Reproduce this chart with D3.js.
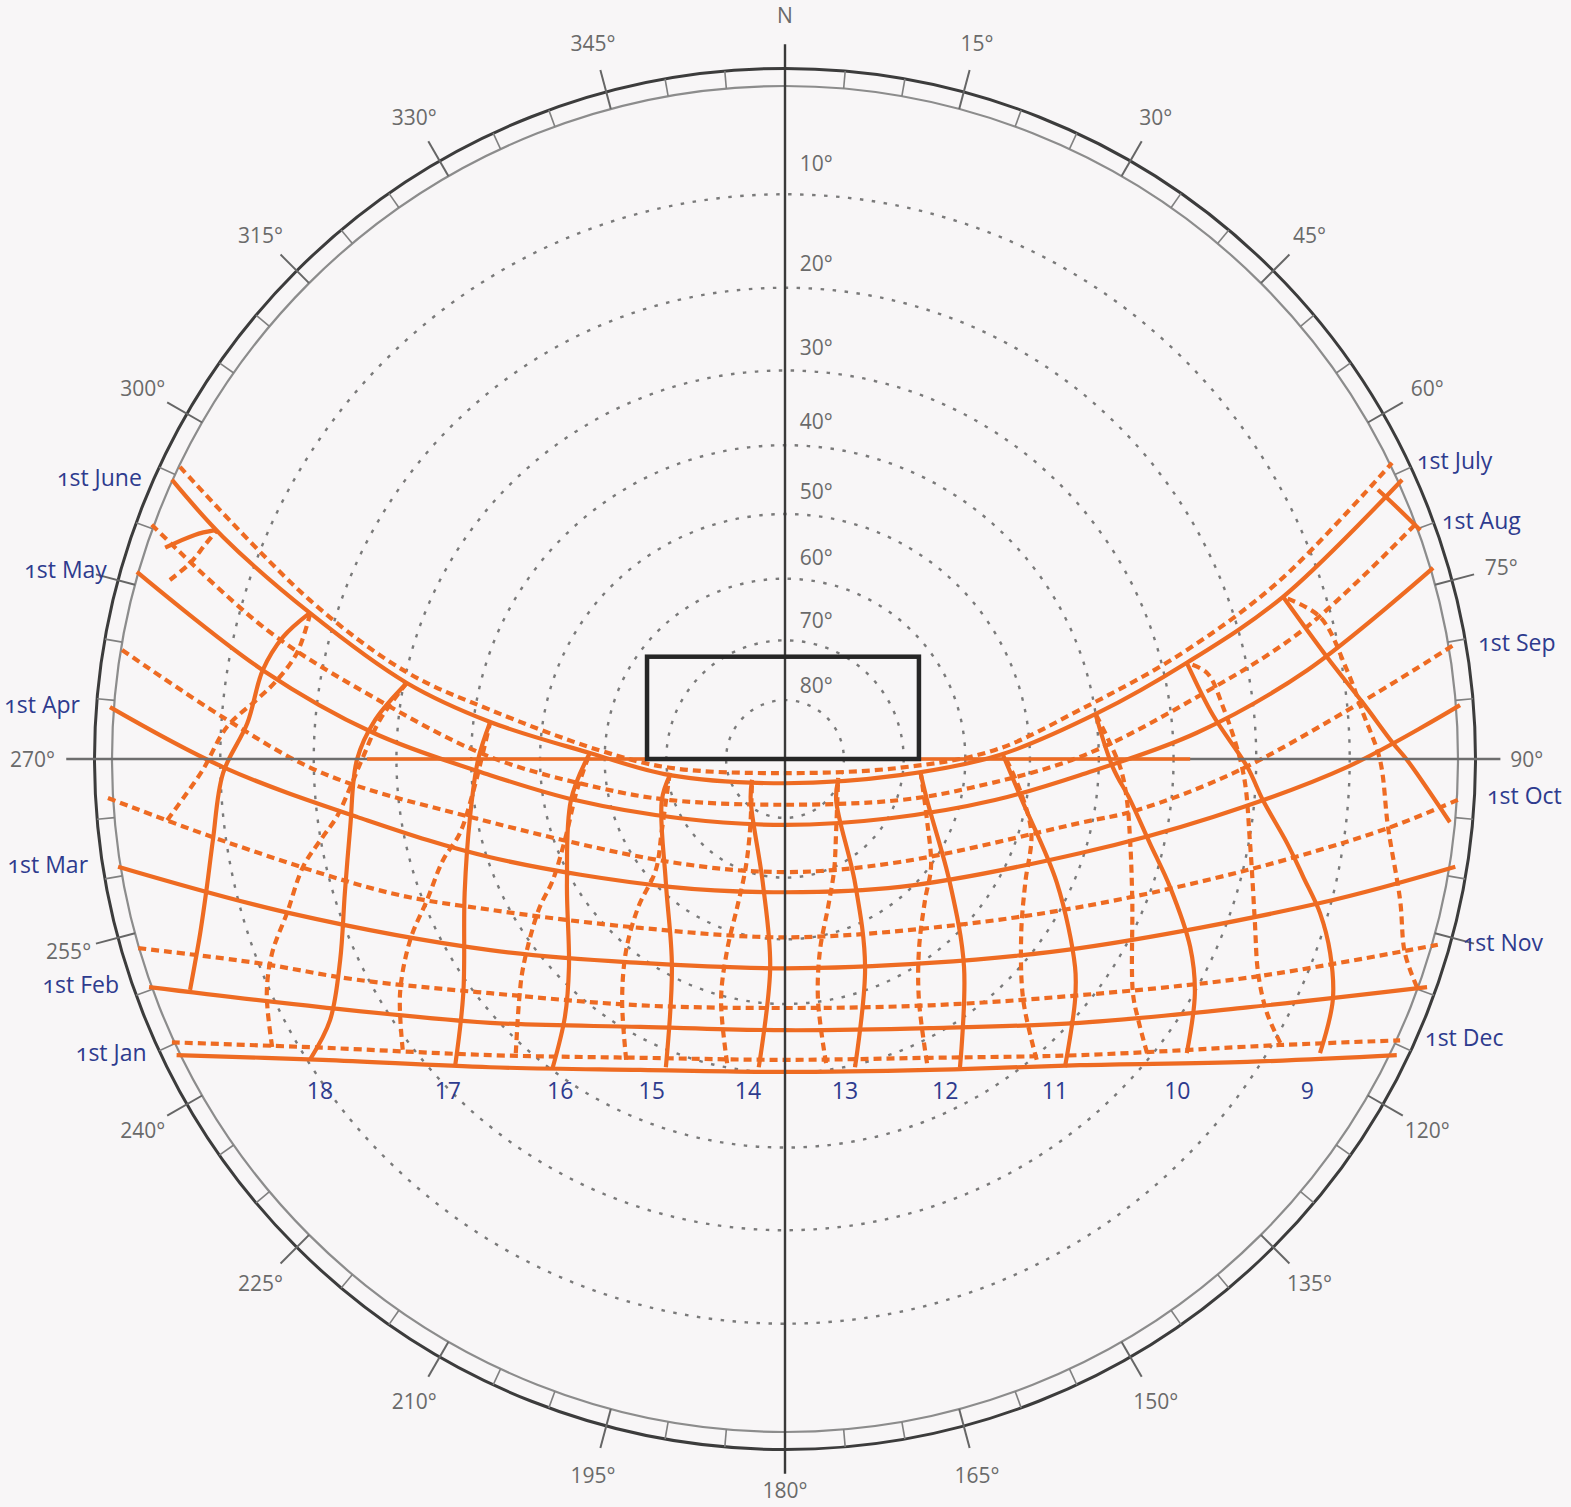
<!DOCTYPE html>
<html><head><meta charset="utf-8">
<script src="https://cdn.jsdelivr.net/npm/d3@7"></script>
<style>
html,body{margin:0;padding:0;background:#f8f6f7;}
svg{display:block;}
text{font-family:"Open Sans","Noto Sans",sans-serif;}
</style></head><body>
<svg id="chart" width="1571" height="1507"></svg>
<script>
// ---------- DATA (chart units: horizon radius = 100, x right, y up) ----------
const altitudes = [10, 20, 30, 40, 50, 60, 70, 80];
const altLabelV = [88.6, 73.7, 61.2, 50.2, 39.8, 30.0, 20.7, 11.0];
const azimuthLabels = [15, 30, 45, 60, 75, 90, 120, 135, 150, 165, 180, 195, 210, 225, 240, 255, 270, 300, 315, 330, 345];

// date lines (1st of month); Jan–Jun solid, Jul–Dec dashed
const dJan = [[-90.4,-44.0],[-68.7,-44.7],[-43.8,-45.8],[-21.5,-46.2],[0,-46.5],[21.5,-46.2],[43.8,-45.5],[68.7,-45.0],[90.9,-44.0]];
const dFeb = [[-94.5,-33.9],[-68.7,-36.9],[-43.8,-39.2],[-21.5,-39.8],[0,-40.3],[21.5,-40.0],[43.8,-39.2],[68.7,-36.9],[95.4,-33.9]];
const dMar = [[-99.1,-16.0],[-73.6,-22.9],[-43.8,-28.4],[-21.5,-30.3],[0,-31.1],[21.5,-30.3],[43.8,-28.1],[79.5,-21.4],[99.6,-16.0]];
const dApr = [[-100.3,7.7],[-83.5,-1.2],[-63.6,-8.6],[-43.8,-14.6],[-17.1,-19.0],[0,-19.8],[17.1,-19.0],[43.8,-14.0],[63.6,-8.6],[83.5,-1.2],[100.3,8.0]];
const dMay = [[-96.3,27.8],[-77.6,13.2],[-61.2,3.9],[-43.8,-2.4],[-31.2,-6.1],[-15.6,-8.8],[0,-9.8],[15.6,-8.8],[31.2,-6.1],[43.8,-2.4],[61.2,3.9],[77.6,13.2],[96.3,28.4]];
const dJun = [[-91.1,41.5],[-83.5,33.0],[-70.6,21.7],[-56.2,11.3],[-43.8,5.5],[-29.0,0.9],[-17.1,-2.4],[0,-3.6],[17.1,-2.4],[31.9,0.6],[46.4,6.8],[59.7,14.3],[74.0,24.1],[91.7,41.5]];
const dJul = [[-89.9,43.4],[-70.6,23.6],[-56.2,12.9],[-43.8,7.3],[-27.6,1.3],[-17.1,-1.3],[0,-2.1],[17.1,-1.3],[31.1,1.3],[43.8,7.3],[59.1,15.8],[73.6,26.6],[90.2,44.0]];
const dAug = [[-94.1,34.8],[-77.0,19.2],[-61.2,9.2],[-43.8,0.3],[-27.5,-4.3],[-17.1,-6.1],[0,-6.8],[17.1,-6.1],[27.5,-4.3],[43.8,0.3],[61.2,9.2],[77.0,19.2],[93.9,35.1]];
const dSep = [[-98.5,16.2],[-83.5,6.2],[-68.7,-2.1],[-46.8,-8.6],[-17.1,-15.3],[0,-16.8],[17.1,-15.3],[43.8,-9.5],[52.3,-7.6],[66.6,-2.1],[85.4,8.3],[99.3,16.9]];
const dOct = [[-100.6,-5.8],[-82.5,-12.5],[-58.7,-19.9],[-43.8,-22.4],[-21.5,-25.1],[0,-26.5],[21.5,-25.1],[43.8,-22.0],[68.7,-16.5],[89.5,-10.3],[100.6,-5.8]];
const dNov = [[-96.1,-28.1],[-78.5,-30.3],[-63.6,-32.8],[-43.8,-34.8],[-21.5,-36.6],[0,-37.0],[21.5,-36.6],[43.8,-35.1],[69.5,-32.4],[97.0,-27.6]];
const dDec = [[-91.1,-42.1],[-68.7,-42.9],[-43.8,-44.0],[-21.5,-44.4],[0,-44.7],[21.5,-44.4],[43.8,-44.0],[73.6,-42.5],[91.4,-41.8]];

const solidDates = ["1st Jan", "1st Feb", "1st Mar", "1st Apr", "1st May", "1st June"];
const dashedDates = ["1st July", "1st Aug", "1st Sep", "1st Oct", "1st Nov", "1st Dec"];

// hour lines: s = Jan→Jun (solid), d = Jul→Dec (dashed)
const h20s = [[-92.1,31.4],[-87.7,33.3],[-84.7,34.0]];
const h20d = [[-91.4,26.6],[-88.4,29.1],[-86.2,31.8],[-84.4,34.0]];
const h19s = [[-88.4,-34.3],[-86.9,-25.9],[-85.9,-19.0],[-85.0,-12.0],[-83.5,-2.1],[-79.9,5.3],[-77.6,13.2],[-74.6,18.1],[-70.6,21.7]];
const h19d = [[-91.8,-9.1],[-88.9,-5.1],[-86.5,-1.6],[-82.9,4.8],[-78.5,8.8],[-75.5,11.7],[-72.5,15.8],[-70.6,21.4]];
const h18s = [[-70.6,-44.7],[-67.6,-38.8],[-66.1,-29.9],[-65.4,-19.9],[-64.6,-10.1],[-63.6,-0.1],[-60.9,5.8],[-56.2,11.3]];
const h18d = [[-76.2,-42.8],[-77.0,-34.8],[-76.2,-28.8],[-74.0,-22.9],[-71.6,-16.0],[-68.7,-11.6],[-66.6,-8.6],[-64.6,-4.2],[-62.7,0.3],[-60.2,5.8],[-56.2,11.3]];
const h17s = [[-49.0,-45.5],[-47.8,-34.8],[-47.6,-19.9],[-46.8,-8.6],[-45.6,-0.1],[-43.8,5.5]];
const h17d = [[-56.8,-43.2],[-57.2,-34.8],[-55.7,-26.9],[-53.2,-21.0],[-50.8,-15.0],[-48.3,-11.0],[-46.4,-5.1],[-44.6,2.1],[-43.8,5.5]];
const h16s = [[-34.5,-45.8],[-32.7,-38.3],[-32.1,-30.9],[-32.4,-18.4],[-31.8,-6.1],[-29.0,0.9]];
const h16d = [[-40.0,-43.7],[-39.5,-35.8],[-38.9,-30.9],[-36.6,-22.4],[-34.5,-18.0],[-32.7,-12.0],[-30.9,-4.6],[-29.0,0.9]];
const h15s = [[-17.7,-45.8],[-16.8,-30.9],[-17.7,-18.4],[-18.3,-6.1],[-17.1,-2.4]];
const h15d = [[-23.6,-44.7],[-24.2,-35.8],[-23.6,-28.4],[-21.8,-22.0],[-19.2,-16.5],[-18.3,-10.6],[-17.1,-1.9]];
const h14s = [[-3.9,-45.8],[-2.2,-30.9],[-3.3,-18.4],[-5.1,-6.1],[-4.9,-3.1]];
const h14d = [[-8.6,-45.2],[-9.5,-35.8],[-8.6,-28.4],[-7.1,-22.0],[-5.9,-16.5],[-5.2,-10.6],[-4.9,-3.1]];
const h13s = [[10.4,-45.8],[11.9,-30.9],[10.4,-18.4],[7.6,-6.1],[7.9,-3.1]];
const h13d = [[6.1,-45.2],[4.9,-35.8],[5.2,-28.4],[6.4,-22.0],[7.3,-16.5],[7.6,-10.6],[7.9,-2.8]];
const h12s = [[26.0,-45.8],[26.6,-30.9],[24.5,-18.4],[21.1,-6.1],[20.1,-1.9]];
const h12d = [[21.1,-45.2],[19.9,-35.8],[19.9,-28.4],[20.8,-21.0],[21.7,-16.0],[21.1,-9.1],[20.1,-1.6]];
const h11s = [[41.6,-45.8],[43.1,-35.8],[43.1,-30.9],[40.4,-18.4],[35.2,-6.1],[32.4,0.6]];
const h11d = [[37.4,-44.7],[35.4,-35.8],[35.1,-25.9],[35.7,-18.4],[36.6,-11.0],[34.9,-4.6],[32.4,0.9]];
const h10s = [[59.7,-43.7],[60.9,-34.8],[60.2,-27.9],[57.2,-19.0],[54.2,-12.5],[51.3,-6.1],[48.7,-1.2],[46.1,6.8]];
const h10d = [[53.8,-43.7],[52.5,-38.8],[51.7,-34.8],[51.6,-21.0],[51.3,-12.5],[50.8,-6.1],[49.8,-1.2],[46.1,6.8]];
const h9s = [[79.5,-43.7],[81.4,-35.8],[81.0,-28.8],[79.5,-22.9],[77.0,-17.5],[74.6,-12.5],[71.0,-6.1],[68.7,-1.2],[63.6,6.5],[59.7,14.3]];
const h9d = [[73.6,-42.2],[71.6,-37.7],[70.3,-31.8],[69.8,-23.9],[69.1,-12.5],[68.1,-2.1],[65.1,7.7],[62.7,12.8],[59.7,14.3]];
const h8s = [[98.8,-9.4],[92.4,-0.1],[90.3,2.4],[85.9,8.3],[80.5,15.2],[74.0,24.1]];
const h8d = [[93.9,-33.9],[92.1,-28.8],[91.4,-21.0],[89.6,-10.1],[88.4,-0.1],[85.9,6.8],[83.5,13.2],[79.5,21.1],[74.0,24.1]];
const h7s = [[94.4,34.0],[90.6,37.7],[88.1,40.0]];

const hourLabels = ["18", "17", "16", "15", "14", "13", "12", "11", "10", "9"];
const hourLabelU = [-69.1, -50.1, -33.4, -19.8, -5.5, 8.9, 23.8, 40.1, 58.3, 77.6];
const hourLabelV = -49.2;

const axisBand = [[-62.1, 0], [60.2, 0]];
const boxU = [-20.5, 19.9];
const boxV = [0, 15.2];

// ---------- LAYOUT ----------
const W = 1571, H = 1507, CX = 785, CY = 759, RPX = 673;
const R_HORIZON = 100, R_OUTER = 102.6, R_MAJOR = 106, R_LABEL = 110.2, R_N = 110.6, R_S = 108.6;
const ORANGE = "#ee6b22", NAVY = "#2e3b8e", GREY = "#6a6a6a";

const xs = d3.scaleLinear().domain([-100, 100]).range([CX - RPX, CX + RPX]);
const ys = d3.scaleLinear().domain([-100, 100]).range([CY + RPX, CY - RPX]);
const rad = r => xs(r) - xs(0);
const polar = (az, r) => [r * Math.sin(az * Math.PI / 180), r * Math.cos(az * Math.PI / 180)];
const stereo = a => 100 * Math.tan((90 - a) / 2 * Math.PI / 180);
const labelR = az => az === 180 ? R_S : (az === 270 ? R_LABEL + 1.6 : R_LABEL);

const svg = d3.select("#chart");
svg.append("rect").attr("width", W).attr("height", H).attr("fill", "#f8f6f7");

// rings
svg.append("circle").attr("cx", xs(0)).attr("cy", ys(0)).attr("r", rad(R_HORIZON))
  .attr("fill", "none").attr("stroke", "#8c8c8c").attr("stroke-width", 2.2);
svg.append("circle").attr("cx", xs(0)).attr("cy", ys(0)).attr("r", rad(R_OUTER))
  .attr("fill", "none").attr("stroke", "#3c3c3c").attr("stroke-width", 3);

// ticks
const ticks = d3.range(0, 360, 5);
svg.append("g").selectAll("line").data(ticks).join("line")
  .attr("x1", d => xs(polar(d, R_HORIZON)[0])).attr("y1", d => ys(polar(d, R_HORIZON)[1]))
  .attr("x2", d => xs(polar(d, d % 15 === 0 ? R_MAJOR : R_OUTER)[0]))
  .attr("y2", d => ys(polar(d, d % 15 === 0 ? R_MAJOR : R_OUTER)[1]))
  .attr("stroke", d => d % 15 === 0 ? "#666" : "#808080")
  .attr("stroke-width", d => d % 15 === 0 ? 2 : 1.6);

// altitude rings
svg.append("g").selectAll("circle").data(altitudes).join("circle")
  .attr("cx", xs(0)).attr("cy", ys(0)).attr("r", d => rad(stereo(d)))
  .attr("fill", "none").attr("stroke", "#7a7a7a").attr("stroke-width", 2.4)
  .attr("stroke-dasharray", "3.5 8.5");

// orange curves
const line = d3.line().x(d => xs(d[0])).y(d => ys(d[1])).curve(d3.curveCatmullRom.alpha(0.5));
const dateSolid = [dJan, dFeb, dMar, dApr, dMay, dJun];
const dateDashed = [dJul, dAug, dSep, dOct, dNov, dDec];
const hourSolid = [h20s, h19s, h18s, h17s, h16s, h15s, h14s, h13s, h12s, h11s, h10s, h9s, h8s, h7s];
const hourDashed = [h20d, h19d, h18d, h17d, h16d, h15d, h14d, h13d, h12d, h11d, h10d, h9d, h8d];

const og = svg.append("g").attr("fill", "none").attr("stroke", ORANGE).attr("stroke-width", 4.2)
  .attr("stroke-linecap", "butt").attr("stroke-linejoin", "round");
og.selectAll("path.ds").data(dateDashed).join("path").attr("class", "ds").attr("d", line).attr("stroke-dasharray", "8 5");
og.selectAll("path.hd").data(hourDashed).join("path").attr("class", "hd").attr("d", line).attr("stroke-dasharray", "8 5");
og.selectAll("path.dl").data(dateSolid).join("path").attr("class", "dl").attr("d", line);
og.selectAll("path.hs").data(hourSolid).join("path").attr("class", "hs").attr("d", line);

// cross axes
svg.append("line").attr("x1", xs(-106.8)).attr("x2", xs(106.3)).attr("y1", ys(0)).attr("y2", ys(0))
  .attr("stroke", "#6e6e6e").attr("stroke-width", 2.6);
svg.append("path").attr("d", line(axisBand)).attr("stroke", ORANGE).attr("stroke-width", 3.4).attr("fill", "none");
svg.append("line").attr("x1", xs(0)).attr("x2", xs(0)).attr("y1", ys(106.2)).attr("y2", ys(-106.2))
  .attr("stroke", "#3a3a3a").attr("stroke-width", 2.4);

// box
svg.append("rect").attr("x", xs(boxU[0])).attr("y", ys(boxV[1]))
  .attr("width", xs(boxU[1]) - xs(boxU[0])).attr("height", ys(boxV[0]) - ys(boxV[1]))
  .attr("fill", "none").attr("stroke", "#262626").attr("stroke-width", 4.5);

// azimuth labels
svg.append("g").selectAll("text").data(azimuthLabels).join("text")
  .attr("x", d => xs(polar(d, labelR(d))[0])).attr("y", d => ys(polar(d, labelR(d))[1]))
  .attr("text-anchor", "middle").attr("dominant-baseline", "central")
  .attr("font-size", 21).attr("fill", GREY).text(d => d + "°");
svg.append("text").attr("x", xs(polar(0, R_N)[0])).attr("y", ys(polar(0, R_N)[1]))
  .attr("text-anchor", "middle").attr("dominant-baseline", "central")
  .attr("font-size", 21).attr("fill", GREY).text("N");

// altitude labels
svg.append("g").selectAll("text").data(altitudes).join("text")
  .attr("x", xs(2.2)).attr("y", (d, i) => ys(altLabelV[i]))
  .attr("dominant-baseline", "central").attr("font-size", 21).attr("fill", GREY)
  .text(d => d + "°");

// date labels
const dl = svg.append("g").attr("font-size", 23).attr("fill", NAVY)
  .style("font-variant-numeric", "oldstyle-nums");
dl.selectAll("text.l").data(dateSolid).join("text").attr("class", "l")
  .attr("x", d => xs(d[0][0]) - 30).attr("y", d => ys(d[0][1]) - 3)
  .attr("text-anchor", "end").attr("dominant-baseline", "central")
  .text((d, i) => solidDates[i]);
dl.selectAll("text.r").data(dateDashed).join("text").attr("class", "r")
  .attr("x", d => xs(d[d.length - 1][0]) + 25).attr("y", d => ys(d[d.length - 1][1]) - 3)
  .attr("text-anchor", "start").attr("dominant-baseline", "central")
  .text((d, i) => dashedDates[i]);

// hour labels
svg.append("g").selectAll("text").data(hourLabels).join("text")
  .attr("x", (d, i) => xs(hourLabelU[i])).attr("y", ys(hourLabelV))
  .attr("text-anchor", "middle").attr("dominant-baseline", "central")
  .attr("font-size", 23).attr("fill", NAVY).text(d => d);
</script>
</body></html>
